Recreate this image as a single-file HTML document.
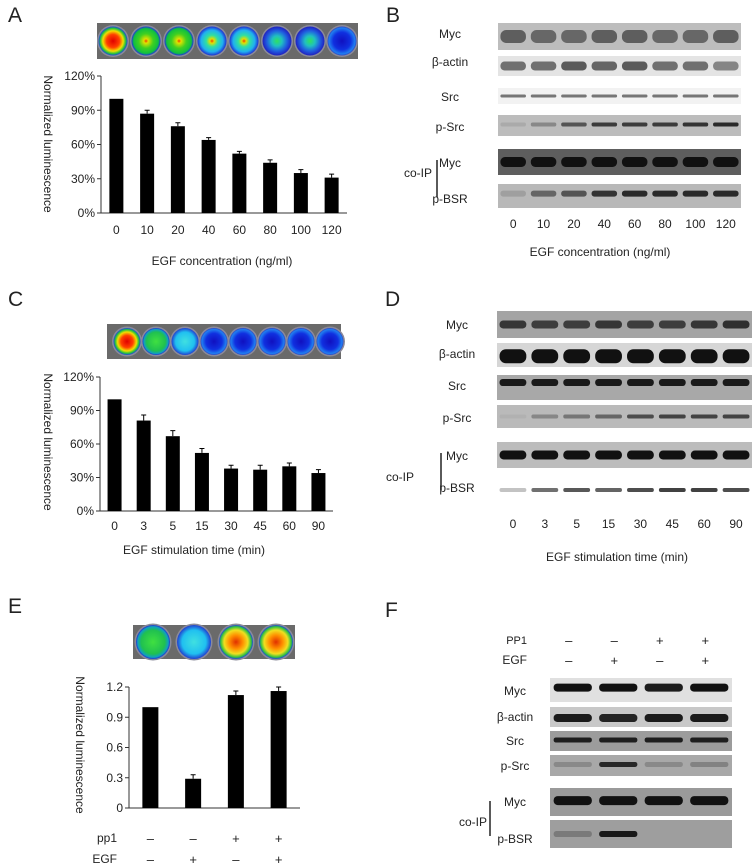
<!DOCTYPE html>
<html><head><meta charset="utf-8">
<style>
html,body{margin:0;padding:0;background:#fff;}
svg{display:block;font-family:"Liberation Sans",sans-serif;}
</style></head>
<body>
<svg id="fig" width="756" height="868" viewBox="0 0 756 868" xmlns="http://www.w3.org/2000/svg">
<defs>
<radialGradient id="gRed"><stop offset="0" stop-color="#e00000"/><stop offset="0.45" stop-color="#ff4000"/><stop offset="0.7" stop-color="#f0e000"/><stop offset="0.88" stop-color="#20c040"/><stop offset="1" stop-color="#2040e0"/></radialGradient>
<radialGradient id="gOrange"><stop offset="0" stop-color="#e03000"/><stop offset="0.4" stop-color="#ff9000"/><stop offset="0.7" stop-color="#f0e020"/><stop offset="0.9" stop-color="#30c040"/><stop offset="1" stop-color="#2040e0"/></radialGradient>
<radialGradient id="gGreenY"><stop offset="0" stop-color="#f04000"/><stop offset="0.15" stop-color="#e0e000"/><stop offset="0.5" stop-color="#40d020"/><stop offset="0.85" stop-color="#10c040"/><stop offset="1" stop-color="#2030e0"/></radialGradient>
<radialGradient id="gGreen"><stop offset="0" stop-color="#40e040"/><stop offset="0.7" stop-color="#20c050"/><stop offset="0.9" stop-color="#10a0c0"/><stop offset="1" stop-color="#2030d0"/></radialGradient>
<radialGradient id="gCyanY"><stop offset="0" stop-color="#f04000"/><stop offset="0.15" stop-color="#e0e000"/><stop offset="0.4" stop-color="#30e0a0"/><stop offset="0.75" stop-color="#20b0f0"/><stop offset="1" stop-color="#2030d0"/></radialGradient>
<radialGradient id="gCyan"><stop offset="0" stop-color="#40e0e0"/><stop offset="0.7" stop-color="#20c0f0"/><stop offset="1" stop-color="#2040d0"/></radialGradient>
<radialGradient id="gBlueG"><stop offset="0" stop-color="#30e060"/><stop offset="0.35" stop-color="#20c0c0"/><stop offset="0.7" stop-color="#2060e0"/><stop offset="1" stop-color="#2020c0"/></radialGradient>
<radialGradient id="gBlue"><stop offset="0" stop-color="#1010c0"/><stop offset="0.6" stop-color="#1030e0"/><stop offset="0.9" stop-color="#2080f0"/><stop offset="1" stop-color="#3040c0"/></radialGradient>
</defs>
<g id="root"></g>
</svg>
<script>
// ---- Chart data ----
const catsA = ["0","10","20","40","60","80","100","120"];
const valsA = [100, 87, 76, 64, 52, 44, 35, 31];
const errsA = [0, 3, 3, 2, 2, 2.5, 3, 3];
const ticksA = [0, 30, 60, 90, 120];

const catsC = ["0","3","5","15","30","45","60","90"];
const valsC = [100, 81, 67, 52, 38, 37, 40, 34];
const errsC = [0, 5, 5, 4, 3, 4, 3, 3];
const ticksC = [0, 30, 60, 90, 120];

const catsE = ["1","2","3","4"];
const valsE = [1.0, 0.29, 1.12, 1.16];
const errsE = [0, 0.04, 0.04, 0.04];
const ticksE = [0, 0.3, 0.6, 0.9, 1.2];
const pp1E = ["\u2013","\u2013","+","+"];
const egfE = ["\u2013","+","\u2013","+"];

const NS = "http://www.w3.org/2000/svg";
const root = document.getElementById('root');
function el(tag, attrs, parent, text){
  const e = document.createElementNS(NS, tag);
  for (const k in attrs) e.setAttribute(k, attrs[k]);
  if (text !== undefined) e.textContent = text;
  (parent || root).appendChild(e);
  return e;
}

function barChart(g, cats, vals, errs, ticks, x0, x1, yTop, yBot, yMax, fmt, bw, catLabelY){
  const n = cats.length, step = (x1 - x0) / n;
  const xs = i => x0 + step * (i + 0.5);
  const ys = v => yBot - (v / yMax) * (yBot - yTop);
  const ax = el('line', {x1:x0, y1:yTop, x2:x0, y2:yBot, stroke:'#333', 'stroke-width':1}, g);
  
  
  const bx = el('line', {x1:x0, y1:yBot, x2:x1, y2:yBot, stroke:'#333', 'stroke-width':1}, g);
  
  
  ticks.forEach(t => {
    const y = ys(t);
    el('line', {x1:x0-4, y1:y, x2:x0, y2:y, stroke:'#333'}, g);
    const tl = el('text', {x:x0-6, y:y+4, 'text-anchor':'end', 'font-size':12, fill:'#222'}, g, fmt(t));
    
    
  });
  vals.forEach((v, i) => {
    const cx = xs(i), y = ys(v);
    const b = el('rect', {x:cx-bw/2, y:y, width:bw, height:yBot-y, fill:'#000'}, g);
    
    
    if (errs[i] > 0){
      const ye = ys(v + errs[i]);
      const eb = el('path', {d:`M${cx} ${y} V${ye} M${cx-2.5} ${ye} H${cx+2.5}`, stroke:'#000', 'stroke-width':1, fill:'none'}, g);
      
      
    }
    if (catLabelY){
      const cl = el('text', {x:cx, y:catLabelY, 'text-anchor':'middle', 'font-size':12, fill:'#222'}, g, cats[i]);
      
      
    }
  });
  return xs;
}

function text(x, y, s, size, name, anchor, extra){
  const t = el('text', Object.assign({x:x, y:y, 'font-size':size, fill:'#222', 'text-anchor':anchor||'middle'}, extra||{}), root, s);
  
  
  return t;
}

function strip(x, y, w, h, cxs, r, grads, name){
  const g = el('g', {});
  
  
  el('rect', {x:x, y:y, width:w, height:h, fill:'#6a6a6a'}, g);
  cxs.forEach((cx, i) => {
    el('circle', {cx:cx, cy:y+h/2, r:r+1.5, fill:'#8a8a9a'}, g);
    el('circle', {cx:cx, cy:y+h/2, r:r, fill:'url(#' + grads[i] + ')'}, g);
  });
}

function blot(x0, x1, lanes, rows, name){
  const g = el('g', {});
  
  
  const step = (x1 - x0) / lanes;
  rows.forEach(r => {
    if (r.bg) el('rect', {x:x0, y:r.y, width:x1-x0, height:r.h, fill:r.bg}, g);
    r.ints.forEach((v, i) => {
      if (v <= 0) return;
      const cx = x0 + step*(i+0.5);
      el('rect', {x:cx - step*0.42, y:r.y + r.h*r.by - r.bh/2, width:step*0.84, height:r.bh, rx:r.bh/2.2, fill:'#111', opacity:v}, g);
    });
  });
  return i => x0 + step*(i+0.5);
}

// Panel letters
text(8, 22, "A", 21, "panel-a-label", "start");
text(386, 22, "B", 21, "panel-b-label", "start");
text(8, 306, "C", 21, "panel-c-label", "start");
text(385, 306, "D", 21, "panel-d-label", "start");
text(8, 613, "E", 21, "panel-e-label", "start");
text(385, 617, "F", 21, "panel-f-label", "start");

// ---- Panel A ----
strip(97, 23, 261, 36, [113,146,179,212,244,277,310,342], 14.5, ['gRed','gGreenY','gGreenY','gCyanY','gCyanY','gBlueG','gBlueG','gBlue'], 'luminescence-strip-a');
const gA = el('g', {});  
barChart(gA, catsA, valsA, errsA, ticksA, 101, 347, 76, 213, 120, t => t + '%', 14, 234);
text(44, 144, "Normalized luminescence", 12, "y-axis-title-a", "middle", {transform:'rotate(90 44 144)'});
text(222, 265, "EGF concentration (ng/ml)", 12, "x-axis-title-a");

// ---- Panel C ----
strip(107, 324, 234, 35, [127,156,185,214,243,272,301,330], 13.5, ['gRed','gGreen','gCyan','gBlue','gBlue','gBlue','gBlue','gBlue'], 'luminescence-strip-c');
const gC = el('g', {});  
barChart(gC, catsC, valsC, errsC, ticksC, 100, 333, 377, 511, 120, t => t + '%', 14, 530);
text(44, 442, "Normalized luminescence", 12, "y-axis-title-c", "middle", {transform:'rotate(90 44 442)'});
text(194, 554, "EGF stimulation time (min)", 12, "x-axis-title-c");

// ---- Panel E ----
strip(133, 625, 162, 34, [153,194,236,276], 17, ['gGreen','gCyan','gOrange','gOrange'], 'luminescence-strip-e');
const gE = el('g', {});  
const xsE = barChart(gE, catsE, valsE, errsE, ticksE, 129, 300, 687, 808, 1.2, t => t === 0 ? '0' : t.toFixed(1), 16, null);
text(76, 745, "Normalized luminescence", 12, "y-axis-title-e", "middle", {transform:'rotate(90 76 745)'});
text(117, 842, "pp1", 12, "pp1-label", "end");
text(117, 863, "EGF", 12, "egf-label-e", "end");
pp1E.forEach((s, i) => text(xsE(i), 843, s, 13, "pp1-sign"));
egfE.forEach((s, i) => text(xsE(i), 864, s, 13, "egf-sign"));

// ---- Panel B (blots) ----
const xsB = blot(498, 741, 8, [
  {y:23, h:27, bg:'#bdbdbd', by:0.5, bh:13, ints:[0.55,0.5,0.5,0.55,0.55,0.5,0.5,0.55]},
  {y:56, h:20, bg:'#e4e4e4', by:0.5, bh:9, ints:[0.55,0.55,0.65,0.6,0.65,0.55,0.55,0.45]},
  {y:88, h:16, bg:'#f2f2f2', by:0.5, bh:3, ints:[0.55,0.55,0.55,0.55,0.55,0.55,0.55,0.55]},
  {y:115, h:21, bg:'#bcbcbc', by:0.45, bh:4, ints:[0.1,0.3,0.6,0.75,0.75,0.75,0.8,0.85]},
  {y:149, h:26, bg:'#5e5e5e', by:0.5, bh:10, ints:[1,1,1,1,1,1,1,1]},
  {y:184, h:24, bg:'#b8b8b8', by:0.4, bh:6, ints:[0.15,0.5,0.6,0.8,0.85,0.85,0.85,0.85]}
], 'blot-b');
[["Myc",38],["β-actin",66],["Src",101],["p-Src",131],["Myc",167],["p-BSR",203]].forEach(a => text(450, a[1], a[0], 12, "blot-row-label-b"));
text(418, 177, "co-IP", 12, "co-ip-label-b");
el('line', {x1:437, y1:160, x2:437, y2:197, stroke:'#222', 'stroke-width':1.5});
catsA.forEach((c, i) => text(xsB(i), 228, c, 12, "lane-label-b"));
text(600, 256, "EGF concentration (ng/ml)", 12, "x-axis-title-b");

// ---- Panel D (blots) ----
const xsD = blot(497, 752, 8, [
  {y:311, h:27, bg:'#a4a4a4', by:0.5, bh:8, ints:[0.75,0.7,0.7,0.75,0.7,0.7,0.75,0.8]},
  {y:343, h:24, bg:'#d6d6d6', by:0.55, bh:14, ints:[1,1,1,1,1,1,1,1]},
  {y:375, h:25, bg:'#a8a8a8', by:0.3, bh:7, ints:[0.95,0.95,0.95,0.95,0.95,0.95,0.95,0.95]},
  {y:405, h:23, bg:'#bababa', by:0.5, bh:4, ints:[0.05,0.3,0.4,0.5,0.65,0.7,0.7,0.7]},
  {y:442, h:26, bg:'#bcbcbc', by:0.5, bh:9, ints:[1,1,1,1,1,1,1,1]},
  {y:480, h:20, bg:null, by:0.5, bh:4, ints:[0.25,0.6,0.7,0.65,0.75,0.8,0.8,0.75]}
], 'blot-d');
[["Myc",329],["β-actin",358],["Src",390],["p-Src",422],["Myc",460],["p-BSR",492]].forEach(a => text(457, a[1], a[0], 12, "blot-row-label-d"));
text(400, 481, "co-IP", 12, "co-ip-label-d");
el('line', {x1:441, y1:453, x2:441, y2:490, stroke:'#222', 'stroke-width':1.5});
catsC.forEach((c, i) => text(xsD(i), 528, c, 12, "lane-label-d"));
text(617, 561, "EGF stimulation time (min)", 12, "x-axis-title-d");

// ---- Panel F (blots) ----
const xsF = blot(550, 732, 4, [
  {y:678, h:24, bg:'#e0e0e0', by:0.4, bh:8, ints:[1,1,0.95,1]},
  {y:707, h:20, bg:'#c8c8c8', by:0.55, bh:8, ints:[0.95,0.9,0.95,0.95]},
  {y:731, h:20, bg:'#9c9c9c', by:0.45, bh:5, ints:[0.9,0.9,0.9,0.9]},
  {y:755, h:21, bg:'#a8a8a8', by:0.45, bh:5, ints:[0.2,0.85,0.2,0.25]},
  {y:788, h:28, bg:'#9a9a9a', by:0.45, bh:9, ints:[1,1,1,1]},
  {y:820, h:28, bg:'#9e9e9e', by:0.5, bh:6, ints:[0.25,0.95,0,0]}
], 'blot-f');
text(527, 644, "PP1", 11, "pp1-label-f", "end");
text(527, 664, "EGF", 12, "egf-label-f", "end");
pp1E.forEach((s, i) => text(xsF(i) - 4, 645, s, 13, "pp1-sign-f"));
egfE.forEach((s, i) => text(xsF(i) - 4, 665, s, 13, "egf-sign-f"));
[["Myc",695],["β-actin",721],["Src",745],["p-Src",770],["Myc",806],["p-BSR",843]].forEach(a => text(515, a[1], a[0], 12, "blot-row-label-f"));
text(473, 826, "co-IP", 12, "co-ip-label-f");
el('line', {x1:490, y1:801, x2:490, y2:836, stroke:'#222', 'stroke-width':1.5});
</script>
</body></html>
